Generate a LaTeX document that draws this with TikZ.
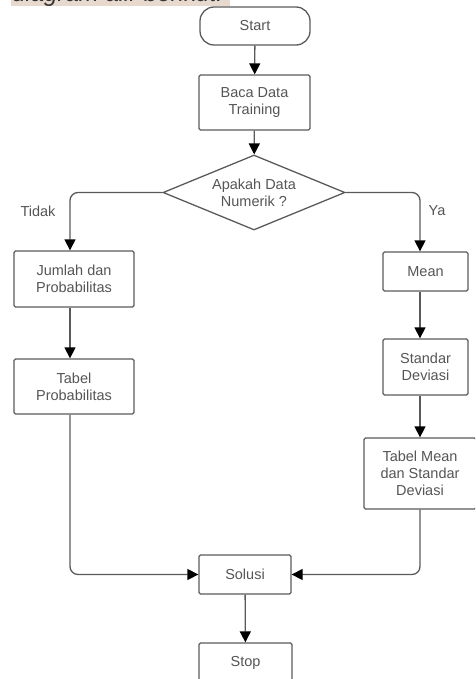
\documentclass[tikz,border=0pt]{standalone}
\usepackage{fontspec}
\setmainfont{Liberation Sans}
\usetikzlibrary{shapes.geometric,arrows.meta}
\definecolor{linec}{HTML}{5A5A5A}
\definecolor{textc}{HTML}{555555}
\definecolor{hl}{HTML}{E8D9CF}
\tikzset{
  fs/.style={font=\fontsize{14.5}{17}\selectfont},
  stepbox/.style={draw=linec, line width=1.3pt, rounded corners=1.5pt, align=center,
    text=textc, fs, inner sep=0pt},
  decide/.style={draw=linec, line width=1.3pt, diamond, aspect=2.43, align=center,
    text=textc, fs, inner sep=0pt, minimum width=182pt, minimum height=75pt},
  conn/.style={draw=linec, line width=1.3pt, rounded corners=8pt,
    -{Triangle[length=11pt,width=11pt,color=black]}},
  lbl/.style={text=textc, fs}
}
\begin{document}
\begin{tikzpicture}[x=1pt,y=-1pt]
\useasboundingbox (0,0) rectangle (475,679);
\clip (0,0) rectangle (475,679);
% partial text at top
\fill[hl] (11,-20) rectangle (230,6);
\node[anchor=base west, inner sep=0pt, text=black!80,
  font=\fontsize{24}{28}\selectfont\itshape] (head) at (12,1.5) {diagram alir berikut.};

\node[stepbox, rounded corners=14pt, minimum width=110pt, minimum height=38pt] (start) at (255,26) {Start};
\node[stepbox, minimum width=111pt, minimum height=55pt] (baca) at (254.5,102.5) {Baca Data\\Training};
\node[decide] (dia) at (254,192.5) {Apakah Data\\Numerik ?};
\node[stepbox, minimum width=120pt, minimum height=56pt] (jumlah) at (74,279) {Jumlah dan\\Probabilitas};
\node[stepbox, minimum width=120pt, minimum height=55pt] (tprob) at (74,386.5) {Tabel\\Probabilitas};
\node[stepbox, minimum width=85pt, minimum height=39pt] (mean) at (425.5,271.5) {Mean};
\node[stepbox, minimum width=85pt, minimum height=56pt] (std) at (425.5,367) {Standar\\Deviasi};
\node[stepbox, minimum width=112pt, minimum height=71pt] (tmean) at (420,473.5) {Tabel Mean\\dan Standar\\Deviasi};
\node[stepbox, minimum width=92pt, minimum height=39pt] (sol) at (245,574.5) {Solusi};
\node[stepbox, minimum width=93pt, minimum height=39pt] (stop) at (245.5,662.5) {Stop};

\node[lbl] (tidak) at (38,211) {Tidak};
\node[lbl] (ya) at (437,211) {Ya};

\draw[conn] (start) -- (baca);
\draw[conn] (baca) -- (dia);
\draw[conn] (dia.west) -| ([xshift=-4pt]jumlah.north);
\draw[conn] (dia.east) -| ([xshift=-5.5pt]mean.north);
\draw[conn] ([xshift=-4pt]jumlah.south) -- ([xshift=-4pt]tprob.north);
\draw[conn] ([xshift=-5.5pt]mean.south) -- ([xshift=-5.5pt]std.north);
\draw[conn] ([xshift=-5.5pt]std.south) -- (tmean.north);
\draw[conn] ([xshift=-4pt]tprob.south) |- (sol.west);
\draw[conn] (tmean.south) |- (sol.east);
\draw[conn] (sol) -- (stop);
\end{tikzpicture}
\end{document}
